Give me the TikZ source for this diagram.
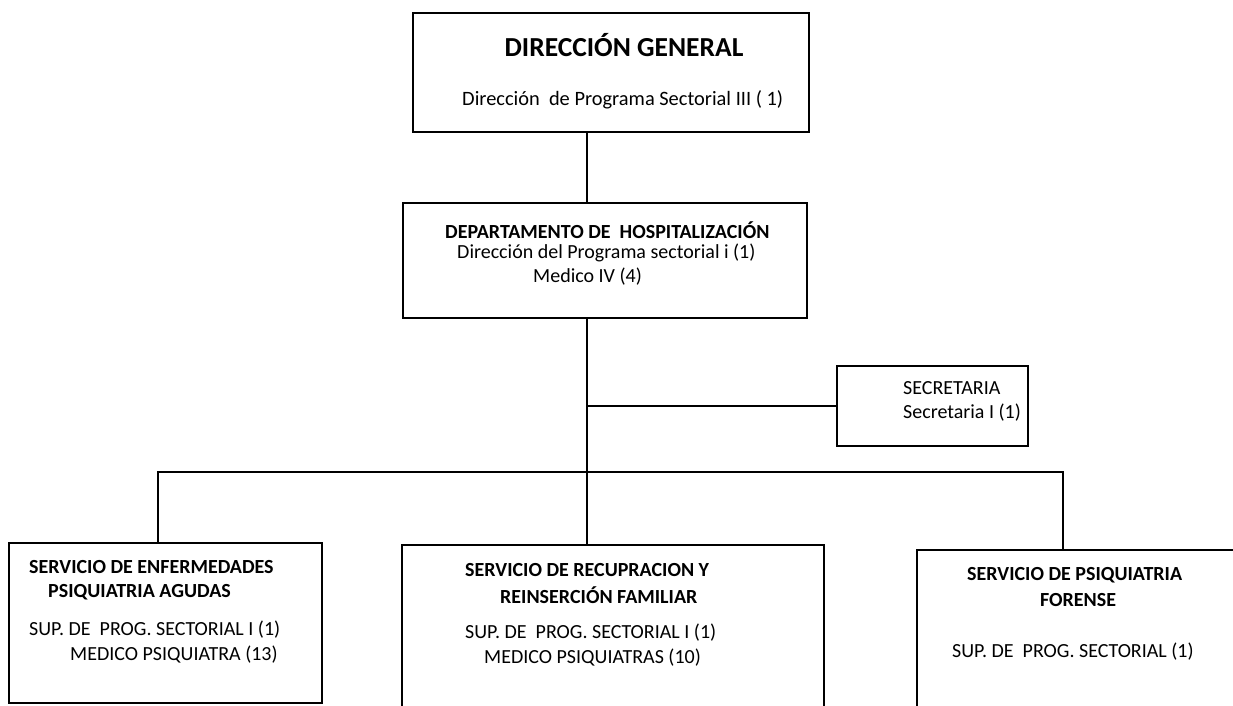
\documentclass[tikz,border=0pt]{standalone}
\usepackage{fontspec}
\setmainfont{Carlito}
\begin{document}
\begin{tikzpicture}[x=1pt,y=-1pt,
  box/.style={draw,line width=1.5pt,anchor=north west,outer sep=0pt,inner sep=0pt},
  conn/.style={line width=1.5pt},
  txt/.style={anchor=west,inner sep=0pt,font=\fontsize{20}{24}\selectfont},
  btxt/.style={anchor=west,inner sep=0pt,font=\fontsize{20}{24}\selectfont\bfseries}]
\useasboundingbox (0,0) rectangle (1233,706);
% boxes
\node[box,minimum width=396pt,minimum height=119pt] (dg) at (413,13) {};
\node[box,minimum width=404pt,minimum height=115pt] (dh) at (403,203) {};
\node[box,minimum width=191pt,minimum height=80pt] (se) at (837,366) {};
\node[box,minimum width=313pt,minimum height=160pt] (ea) at (9,543) {};
\node[box,minimum width=422pt,minimum height=170pt] (rf) at (402,545) {};
\node[box,minimum width=318pt,minimum height=170pt] (fo) at (917,550) {};
% texts
\node[anchor=center,inner sep=0pt,font=\fontsize{27.5}{32}\selectfont\bfseries] (t1) at (624,45) {DIRECCIÓN GENERAL};
\node[txt,font=\fontsize{20.4}{24}\selectfont] (t2) at (462,100) {Dirección\ \ de Programa Sectorial III ( 1)};
\node[btxt] (t3) at (445,230) {DEPARTAMENTO DE\ \ HOSPITALIZACIÓN};
\node[txt] (t4) at (457,253) {Dirección del Programa sectorial i (1)};
\node[txt] (t5) at (533,277) {Medico IV (4)};
\node[txt] (t6) at (903,388) {SECRETARIA};
\node[txt] (t7) at (903,413) {Secretaria I (1)};
\node[btxt] (t8) at (29,567) {SERVICIO DE ENFERMEDADES};
\node[btxt] (t9) at (48,592) {PSIQUIATRIA AGUDAS};
\node[txt] (t10) at (29,630) {SUP. DE\ \ PROG. SECTORIAL I (1)};
\node[txt] (t11) at (70,655) {MEDICO PSIQUIATRA (13)};
\node[btxt] (t12) at (465,570) {SERVICIO DE RECUPRACION Y};
\node[btxt] (t13) at (500,595) {REINSERCIÓN FAMILIAR};
\node[txt] (t14) at (465,633) {SUP. DE\ \ PROG. SECTORIAL I (1)};
\node[txt] (t15) at (484,658) {MEDICO PSIQUIATRAS (10)};
\node[btxt] (t16) at (967,575) {SERVICIO DE PSIQUIATRIA};
\node[btxt,anchor=center] (t17) at (1078,600) {FORENSE};
\node[txt] (t18) at (952,652) {SUP. DE\ \ PROG. SECTORIAL (1)};
% connectors
\coordinate (spine) at (587,0);
\coordinate (bl) at (158,472);
\coordinate (br) at (1063,472);
\draw[conn] (spine |- dg.south) -- (spine |- dh.north);
\draw[conn] (spine |- dh.south) -- (spine |- bl);
\draw[conn] (spine |- se.west) -- (se.west);
\draw[conn] (bl |- ea.north) -- (bl) -- (br) -- (br |- fo.north);
\draw[conn] (spine |- bl) -- (spine |- rf.north);
\end{tikzpicture}
\end{document}
